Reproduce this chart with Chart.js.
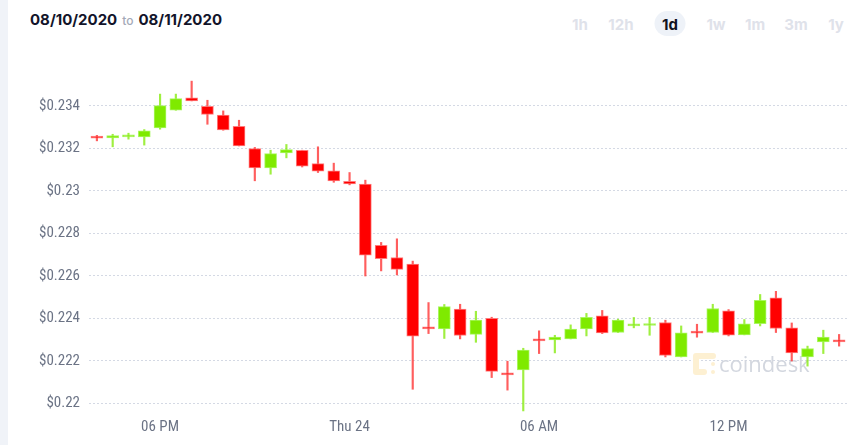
<!DOCTYPE html>
<html>
<head>
<meta charset="utf-8">
<script src="https://cdn.jsdelivr.net/npm/chart.js@4.4.0/dist/chart.umd.min.js"></script>
<style>
  html, body { margin: 0; padding: 0; background: #fff; }
  body { width: 867px; height: 445px; position: relative; overflow: hidden; font-family: Inter, "Noto Sans", sans-serif; }
  .strip { position: absolute; left: 0; top: 0; width: 8px; height: 445px; background: #f0f3f8; }
  .range { position: absolute; left: 30px; top: 10px; font-size: 15px; font-weight: 700; color: #12142a; white-space: nowrap; }
  .range .to { font-size: 12px; font-weight: 500; color: #a3a9b7; margin: 0 5px; }
  .periods { position: absolute; top: 11px; left: 0; width: 867px; height: 25px; }
  .periods span { position: absolute; top: 0; height: 25px; line-height: 28px; font-size: 15px; font-weight: 700; color: #dfe2ea; transform: translateX(-50%); }
  .periods span.on { color: #111322; background: #eef2f8; border-radius: 13px; width: 31px; text-align: center; }
  #wrap { position: absolute; left: 0; top: 0; width: 867px; height: 445px; }
</style>
</head>
<body>
<div class="strip"></div>
<div class="range">08/10/2020<span class="to">to</span>08/11/2020</div>
<div class="periods">
  <span style="left:580px">1h</span>
  <span style="left:621px">12h</span>
  <span class="on" style="left:670px">1d</span>
  <span style="left:716px">1w</span>
  <span style="left:755px">1m</span>
  <span style="left:796px">3m</span>
  <span style="left:836px">1y</span>
</div>
<div id="wrap"><canvas id="chart"></canvas></div>
<script>
const times = [
  "16:00", "16:30", "17:00", "17:30", "18:00", "18:30", "19:00", "19:30",
  "20:00", "20:30", "21:00", "21:30", "22:00", "22:30", "23:00", "23:30",
  "00:00", "00:30", "01:00", "01:30", "02:00", "02:30", "03:00", "03:30",
  "04:00", "04:30", "05:00", "05:30", "06:00", "06:30", "07:00", "07:30",
  "08:00", "08:30", "09:00", "09:30", "10:00", "10:30", "11:00", "11:30",
  "12:00", "12:30", "13:00", "13:30", "14:00", "14:30", "15:00", "15:30"
];

const openPrices = [
  0.23254, 0.23250, 0.23255, 0.23255, 0.23297, 0.23380, 0.23438, 0.23399,
  0.23357, 0.23304, 0.23200, 0.23109, 0.23179, 0.23191, 0.23129, 0.23095,
  0.23046, 0.23033, 0.22744, 0.22687, 0.22656, 0.22360, 0.22351, 0.22444,
  0.22325, 0.22401, 0.22143, 0.22158, 0.22304, 0.22299, 0.22304, 0.22351,
  0.22412, 0.22334, 0.22365, 0.22367, 0.22381, 0.22219, 0.22336, 0.22334,
  0.22436, 0.22323, 0.22376, 0.22497, 0.22356, 0.22219, 0.22290, 0.22296
];
const highPrices = [
  0.23262, 0.23267, 0.23272, 0.23289, 0.23456, 0.23456, 0.23517, 0.23427,
  0.23377, 0.23333, 0.23205, 0.23192, 0.23219, 0.23192, 0.23208, 0.23131,
  0.23087, 0.23051, 0.22758, 0.22775, 0.22670, 0.22475, 0.22466, 0.22467,
  0.22434, 0.22406, 0.22199, 0.22260, 0.22342, 0.22321, 0.22370, 0.22424,
  0.22438, 0.22397, 0.22405, 0.22405, 0.22392, 0.22365, 0.22373, 0.22467,
  0.22442, 0.22395, 0.22513, 0.22528, 0.22379, 0.22270, 0.22345, 0.22325
];
const lowPrices = [
  0.23236, 0.23208, 0.23244, 0.23216, 0.23291, 0.23380, 0.23424, 0.23314,
  0.23286, 0.23212, 0.23048, 0.23079, 0.23156, 0.23113, 0.23087, 0.23041,
  0.23029, 0.22600, 0.22624, 0.22605, 0.22067, 0.22329, 0.22306, 0.22304,
  0.22288, 0.22122, 0.22063, 0.21965, 0.22235, 0.22238, 0.22304, 0.22318,
  0.22329, 0.22334, 0.22356, 0.22321, 0.22219, 0.22219, 0.22312, 0.22334,
  0.22318, 0.22323, 0.22365, 0.22334, 0.22200, 0.22176, 0.22235, 0.22270
];
const closePrices = [
  0.23249, 0.23261, 0.23258, 0.23283, 0.23402, 0.23435, 0.23424, 0.23360,
  0.23288, 0.23212, 0.23109, 0.23176, 0.23195, 0.23117, 0.23093, 0.23048,
  0.23033, 0.22698, 0.22681, 0.22631, 0.22317, 0.22351, 0.22456, 0.22320,
  0.22392, 0.22151, 0.22135, 0.22251, 0.22295, 0.22312, 0.22350, 0.22405,
  0.22332, 0.22392, 0.22375, 0.22370, 0.22226, 0.22332, 0.22331, 0.22447,
  0.22321, 0.22375, 0.22486, 0.22353, 0.22238, 0.22259, 0.22313, 0.22290
];

const xTickLabels = { "18:00": "06 PM", "00:00": "Thu 24", "06:00": "06 AM", "12:00": "12 PM" };
const yTickValues = [0.220, 0.222, 0.224, 0.226, 0.228, 0.230, 0.232, 0.234];
const yTickLabels = ["$0.22", "$0.222", "$0.224", "$0.226", "$0.228", "$0.23", "$0.232", "$0.234"];

const GREEN = "rgb(127, 234, 0)";
const RED = "rgb(255, 0, 0)";

function isUp(i) {
  return closePrices[i] >= openPrices[i];
}

const bodies = times.map((t, i) => [openPrices[i], closePrices[i]]);
const wicks = times.map((t, i) => [lowPrices[i], highPrices[i]]);

// faded coindesk mark behind the candles
const watermark = {
  id: "watermark",
  beforeDatasetsDraw(chart) {
    const ctx = chart.ctx;
    ctx.save();
    ctx.strokeStyle = "#fdf0d2";
    ctx.fillStyle = "#fdf0d2";
    ctx.lineCap = "round";
    ctx.lineJoin = "round";
    ctx.lineWidth = 6;
    ctx.beginPath();
    ctx.moveTo(713, 356);
    ctx.lineTo(696, 356);
    ctx.lineTo(696, 372);
    ctx.lineTo(704, 372);
    ctx.stroke();
    ctx.beginPath();
    ctx.arc(713, 364, 2, 0, Math.PI * 2);
    ctx.arc(713, 372, 2, 0, Math.PI * 2);
    ctx.fill();
    ctx.fillStyle = "#d3d7df";
    ctx.font = "22px 'Open Sans', 'Noto Sans', sans-serif";
    ctx.textBaseline = "alphabetic";
    ctx.fillText("coindesk", 719, 372);
    ctx.restore();
  }
};

new Chart(document.getElementById("chart"), {
  type: "bar",
  data: {
    labels: times,
    datasets: [
      {
        label: "body",
        data: bodies,
        grouped: false,
        order: 0,
        barThickness: 12,
        minBarLength: 2,
        backgroundColor: times.map((t, i) => (isUp(i) ? GREEN : RED)),
        borderColor: times.map((t, i) => (isUp(i) ? "rgba(160, 245, 80, 0.9)" : "rgba(255, 110, 110, 0.9)")),
        borderWidth: 1,
        borderSkipped: false,
      },
      {
        label: "wick",
        data: wicks,
        grouped: false,
        order: 1,
        barThickness: 1.5,
        backgroundColor: times.map((t, i) => (isUp(i) ? "rgba(127, 234, 0, 0.75)" : "rgba(255, 40, 40, 0.75)")),
        borderWidth: 0,
      },
    ],
  },
  options: {
    responsive: true,
    maintainAspectRatio: false,
    animation: false,
    events: [],
    layout: { padding: { top: 72, right: 20, left: 0, bottom: 0 } },
    plugins: {
      legend: { display: false },
      tooltip: { enabled: false },
    },
    scales: {
      x: {
        grid: { display: false, drawTicks: false },
        border: { display: false },
        afterFit(scale) {
          scale.height = 33;
        },
        ticks: {
          autoSkip: false,
          maxRotation: 0,
          padding: 6,
          color: "#6b7385",
          font: { family: "'Liberation Sans Narrow', 'Roboto Condensed', Roboto, sans-serif", size: 15 },
          callback(value) {
            return xTickLabels[times[value]] || "";
          },
        },
      },
      y: {
        min: 0.2196,
        max: 0.2356,
        z: 1,
        border: { display: false, dash: [2, 2] },
        afterFit(scale) {
          scale.width = 89;
        },
        afterBuildTicks(scale) {
          scale.ticks = yTickValues.map((v) => ({ value: v }));
        },
        grid: {
          color: "#d4d9e4",
          drawTicks: false,
          lineWidth: 1,
        },
        ticks: {
          padding: 9,
          color: "#6b7385",
          font: { family: "'Liberation Sans Narrow', 'Roboto Condensed', Roboto, sans-serif", size: 15 },
          callback(value, index) {
            return yTickLabels[index];
          },
        },
      },
    },
  },
  plugins: [watermark],
});
</script>
</body>
</html>
